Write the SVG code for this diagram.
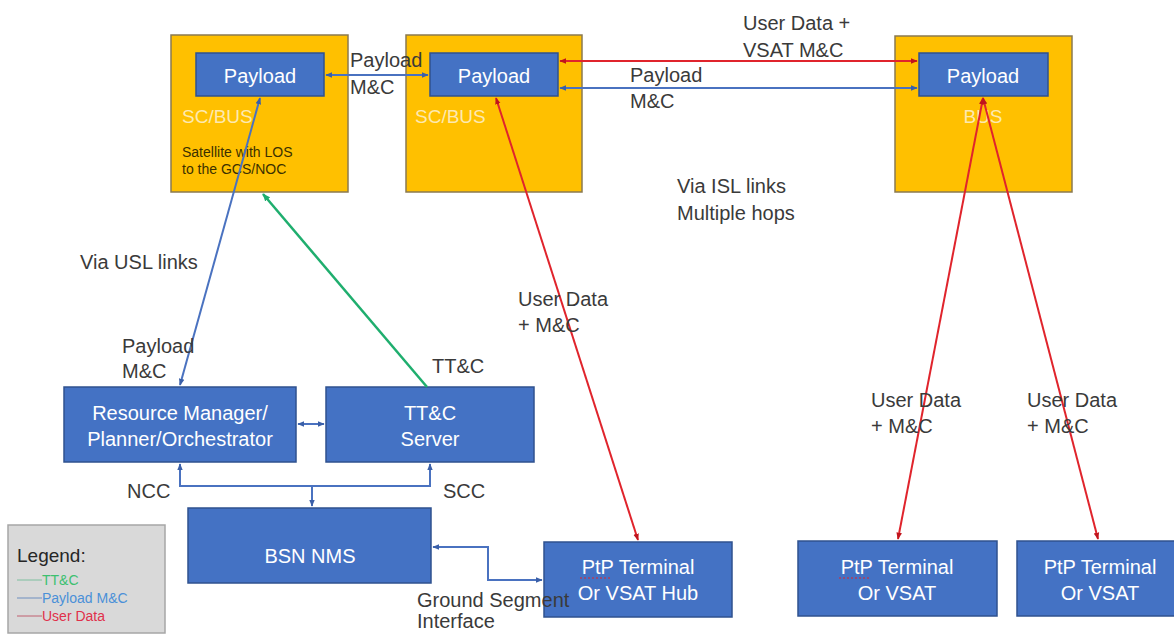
<svg xmlns="http://www.w3.org/2000/svg" width="1174" height="635" viewBox="0 0 1174 635">
<style>
text{font-family:"Liberation Sans",Arial,sans-serif;}
.sat{fill:#ffc000;stroke:#8a7a50;stroke-width:1.5;}
.blk{fill:#4472c4;stroke:#2f528f;stroke-width:1.5;}
.wt{fill:#ffffff;font-size:20px;text-anchor:middle;}
.bus{fill:#fde9b0;font-size:19px;}
.lbl{fill:#3a3a3a;font-size:20px;}
.red{stroke:#e0242c;stroke-width:2;fill:none;}
.blu{stroke:#4a72c0;stroke-width:2;fill:none;}
.grn{stroke:#1fae6e;stroke-width:2.5;fill:none;}
</style>
<defs>
<marker id="ar" viewBox="0 0 10 10" refX="9" refY="5" markerWidth="7" markerHeight="7" markerUnits="userSpaceOnUse" orient="auto-start-reverse"><path d="M0,1 L10,5 L0,9 z" fill="#c0141c"/></marker>
<marker id="ab" viewBox="0 0 10 10" refX="9" refY="5" markerWidth="7" markerHeight="7" markerUnits="userSpaceOnUse" orient="auto-start-reverse"><path d="M0,1 L10,5 L0,9 z" fill="#3a5fa8"/></marker>
<marker id="ag" viewBox="0 0 10 10" refX="9" refY="5" markerWidth="8" markerHeight="8" markerUnits="userSpaceOnUse" orient="auto-start-reverse"><path d="M0,1 L10,5 L0,9 z" fill="#1fae6e"/></marker>
</defs>
<rect width="1174" height="635" fill="#ffffff"/>

<g id="sat1">
<rect class="sat" x="171" y="35" width="177" height="157"/>
<text class="bus" x="182" y="123">SC/BUS</text>
<text x="182" y="157" font-size="14" fill="#3b3000">Satellite with LOS</text>
<text x="182" y="174" font-size="14" fill="#3b3000">to the GCS/NOC</text>
</g>
<g id="sat2">
<rect class="sat" x="406" y="35" width="176" height="157"/>
<text class="bus" x="415" y="123">SC/BUS</text>
</g>
<g id="sat3">
<rect class="sat" x="895" y="36" width="177" height="156"/>
<text class="bus" x="983" y="123" text-anchor="middle">BUS</text>
</g>
<g id="payload1">
<rect class="blk" x="196" y="53" width="128" height="43"/>
<text class="wt" x="260" y="83">Payload</text>
</g>
<g id="payload2">
<rect class="blk" x="430" y="53" width="128" height="43"/>
<text class="wt" x="494" y="83">Payload</text>
</g>
<g id="payload3">
<rect class="blk" x="919" y="53" width="129" height="43"/>
<text class="wt" x="983" y="83">Payload</text>
</g>

<g id="rm">
<rect class="blk" x="64" y="387" width="232" height="75"/>
<text class="wt" x="180" y="420" font-size="21">Resource Manager/</text>
<text class="wt" x="180" y="446" font-size="21">Planner/Orchestrator</text>
</g>
<g id="ttc">
<rect class="blk" x="326" y="387" width="208" height="75"/>
<text class="wt" x="430" y="420" font-size="21">TT&amp;C</text>
<text class="wt" x="430" y="446" font-size="21">Server</text>
</g>
<g id="bsn">
<rect class="blk" x="188" y="508" width="243" height="75"/>
<text class="wt" x="310" y="563">BSN NMS</text>
</g>
<g id="hub">
<rect class="blk" x="544" y="542" width="188" height="75"/>
<text class="wt" x="638" y="574">PtP Terminal</text>
<text class="wt" x="638" y="600">Or VSAT Hub</text>
<line x1="580" y1="578" x2="612" y2="578" stroke="#e0242c" stroke-width="1" stroke-dasharray="2,2"/>
</g>
<g id="vsat1">
<rect class="blk" x="798" y="541" width="199" height="75"/>
<text class="wt" x="897" y="574">PtP Terminal</text>
<text class="wt" x="897" y="600">Or VSAT</text>
<line x1="839" y1="578" x2="871" y2="578" stroke="#e0242c" stroke-width="1" stroke-dasharray="2,2"/>
</g>
<g id="vsat2">
<rect class="blk" x="1017" y="541" width="170" height="75"/>
<text class="wt" x="1100" y="574">PtP Terminal</text>
<text class="wt" x="1100" y="600">Or VSAT</text>
</g>

<g id="legend">
<rect x="8" y="525" width="157" height="108" fill="#d9d9d9" stroke="#a6a6a6" stroke-width="1.5"/>
<text x="17" y="562" font-size="19" fill="#262626">Legend:</text>
<line x1="17" y1="580" x2="42" y2="580" stroke="#7fbf9f" stroke-width="1"/>
<text x="42" y="585" font-size="14" fill="#3cc070">TT&amp;C</text>
<line x1="17" y1="598" x2="42" y2="598" stroke="#6f8fbf" stroke-width="1"/>
<text x="42" y="603" font-size="14" fill="#4a90d8">Payload M&amp;C</text>
<line x1="17" y1="616" x2="42" y2="616" stroke="#c06070" stroke-width="1"/>
<text x="42" y="621" font-size="14" fill="#e0304a">User Data</text>
</g>

<g id="connectors">
<line class="blu" x1="326" y1="75" x2="428" y2="75" marker-start="url(#ab)" marker-end="url(#ab)"/>
<line class="red" x1="560" y1="61" x2="917" y2="61" marker-start="url(#ar)" marker-end="url(#ar)"/>
<line class="blu" x1="560" y1="88" x2="917" y2="88" marker-start="url(#ab)" marker-end="url(#ab)"/>
<line class="blu" x1="260" y1="98" x2="180" y2="385" marker-start="url(#ab)" marker-end="url(#ab)"/>
<line class="grn" x1="427" y1="387" x2="263" y2="194" marker-end="url(#ag)"/>
<line class="red" x1="496" y1="98" x2="638" y2="540" marker-start="url(#ar)" marker-end="url(#ar)"/>
<line class="red" x1="983" y1="98" x2="898" y2="539" marker-start="url(#ar)" marker-end="url(#ar)"/>
<line class="red" x1="983" y1="98" x2="1098" y2="539" marker-start="url(#ar)" marker-end="url(#ar)"/>
<line class="blu" x1="298" y1="424" x2="324" y2="424" marker-start="url(#ab)" marker-end="url(#ab)"/>
<polyline class="blu" points="180,464 180,486 430,486 430,464" marker-start="url(#ab)" marker-end="url(#ab)"/>
<line class="blu" x1="312" y1="486" x2="312" y2="506" marker-end="url(#ab)"/>
<polyline class="blu" points="433,547 488,547 488,580 542,580" marker-start="url(#ab)" marker-end="url(#ab)"/>
</g>

<g id="labels">
<text class="lbl" x="350" y="67">Payload</text>
<text class="lbl" x="350" y="94">M&amp;C</text>
<text class="lbl" x="743" y="30">User Data +</text>
<text class="lbl" x="743" y="57">VSAT M&amp;C</text>
<text class="lbl" x="630" y="82">Payload</text>
<text class="lbl" x="630" y="108">M&amp;C</text>
<text class="lbl" x="677" y="193">Via ISL links</text>
<text class="lbl" x="677" y="220">Multiple hops</text>
<text class="lbl" x="80" y="269" font-size="19">Via USL links</text>
<text class="lbl" x="518" y="306">User Data</text>
<text class="lbl" x="518" y="332">+ M&amp;C</text>
<text class="lbl" x="122" y="353">Payload</text>
<text class="lbl" x="122" y="378">M&amp;C</text>
<text class="lbl" x="432" y="373">TT&amp;C</text>
<text class="lbl" x="871" y="407">User Data</text>
<text class="lbl" x="871" y="433">+ M&amp;C</text>
<text class="lbl" x="1027" y="407">User Data</text>
<text class="lbl" x="1027" y="433">+ M&amp;C</text>
<text class="lbl" x="127" y="498" font-size="18">NCC</text>
<text class="lbl" x="443" y="498" font-size="18">SCC</text>
<text class="lbl" x="417" y="607" font-size="16">Ground Segment</text>
<text class="lbl" x="417" y="628" font-size="16">Interface</text>
</g>
</svg>
